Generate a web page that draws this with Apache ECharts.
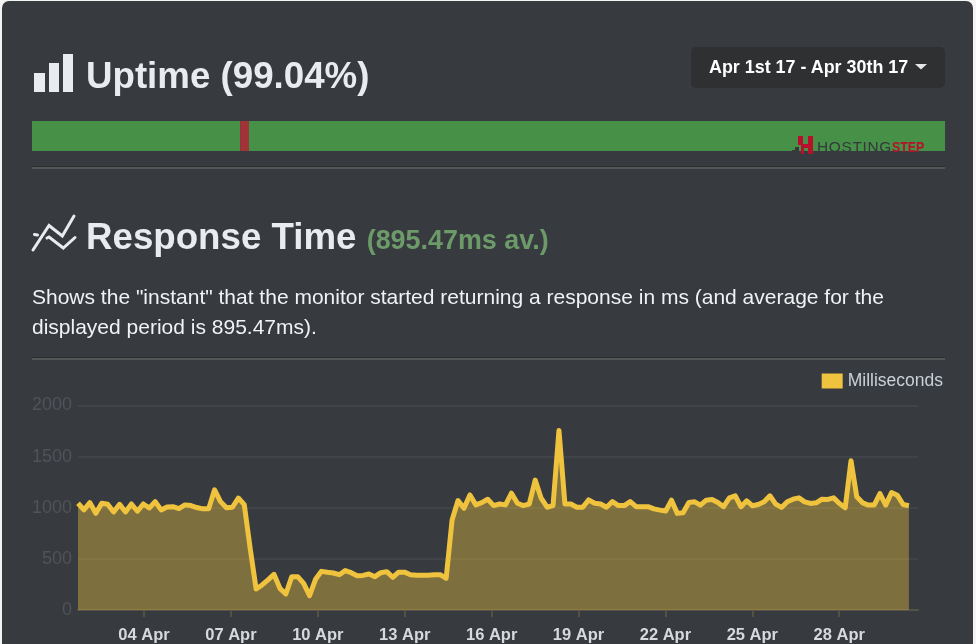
<!DOCTYPE html>
<html>
<head>
<meta charset="utf-8">
<script src="https://cdn.jsdelivr.net/npm/echarts@6/dist/echarts.min.js"></script>
<style>
html,body{margin:0;padding:0;width:976px;height:644px;overflow:hidden;background:#f4f4f4;font-family:"Liberation Sans",Arial,sans-serif;}
#card{position:absolute;left:2px;top:1px;width:971px;height:660px;background:#373a3f;border-radius:7px;}
#chart{position:absolute;left:0;top:0;width:976px;height:644px;}
.t{position:absolute;white-space:nowrap;}
.h{font-weight:700;font-size:36.7px;line-height:40px;color:#e9ecef;}
.p{font-size:21px;line-height:33px;color:#f0f2f4;left:32px;}
.hr{position:absolute;left:32px;width:913px;height:1px;background:#2c2e31;border-bottom:2px solid #555657;}
#btn{position:absolute;left:691px;top:47px;width:254px;height:41px;background:#2f3032;border-radius:5px;}
</style>
</head>
<body>
<div id="card"></div>
<div id="chart"></div>
<svg style="position:absolute;left:0;top:0" width="976" height="300">
  <g fill="#e9ecef"><rect x="34" y="73" width="11" height="19"/><rect x="49" y="63" width="10" height="29"/><rect x="63" y="54" width="10" height="38"/></g>
  <g fill="none" stroke="#e9ecef" stroke-width="3" stroke-linecap="round" stroke-linejoin="miter">
    <polyline points="33,250 49,225.5 62.3,236 74,216"/>
    <polyline points="47,238 49,237 63.3,248 75,237.5"/>
    <polyline points="34.5,234.5 37.5,235"/>
  </g>
  <g fill="#35383c"><rect x="792" y="150" width="4" height="3"/><rect x="795" y="147" width="4" height="4"/></g>
  <path d="M798 136h5v8h5v-8h5v18h-5v-6h-4v6h-3v-9h-3z" fill="#b8102a"/>
</svg>
<div class="t h" style="left:86px;top:56px">Uptime (99.04%)</div>
<div id="btn"></div>
<div class="t" style="left:709px;top:57px;font-weight:700;font-size:17.9px;line-height:20px;color:#fff">Apr 1st 17 - Apr 30th 17</div>
<svg style="position:absolute;left:915px;top:64px" width="14" height="8"><polygon points="0,0 12,0 6,5.5" fill="#e6e6e6"/></svg>
<div class="hr" style="top:166px"></div>
<div class="t" style="left:817px;top:139px;font-size:15.4px;line-height:15px;letter-spacing:.7px;color:#35383c">HOSTING</div>
<div class="t" style="left:892px;top:139px;font-size:15.4px;line-height:15px;font-weight:700;color:#b8102a;transform:scaleX(.8);transform-origin:left">STEP</div>
<div class="t h" style="left:86px;top:217px">Response Time <span style="font-size:26.9px;color:#6c9b69">(895.47ms av.)</span></div>
<div class="t p" style="top:280px">Shows the "instant" that the monitor started returning a response in ms (and average for the</div>
<div class="t p" style="top:310px">displayed period is 895.47ms).</div>
<div class="hr" style="top:357px"></div>
<script>
const seriesName = 'Milliseconds';
const tickLabels = ['04 Apr','07 Apr','10 Apr','13 Apr','16 Apr','19 Apr','22 Apr','25 Apr','28 Apr'];
const uptimeUp = 22.8, uptimeDown = 0.96, uptimeRest = 76.24;
const responseEarly = [
1044,979,1050,946,1044,1034,959,1034,959,1037,966,1037,998,1060,979,1008,1010,992,1028,1021,
1002,989,989,1175,1060,1000,1005,1095,1030,600,205,245,294,349,212,157,326,326,261,140,
300,378,369,362,345,385,365,336,338,352,326,365,375,320,370,370,345,340,340,340,
345,345,310,880,1070,995,1125,1028,1050,1083,1021,1037,1028,1142,1044,1021,1037,1270,1093,1005,
1021,1755,1037,1037,1005,1005,1077,1044,1037,1005,1060,1021,1021,1060,1011,1011,1011,989,977
];
const responseLate = [
968,1074,945,951,1052,1058,1026,1074,1081,1052,1010,1097,1117,1010,1068,1019,1032,1058,1117,1036,
1003,1058,1084,1097,1058,1042,1048,1084,1081,1097,1042,1000,1460,1107,1048,1026,1026,1139,1026,1149,
1123,1032,1019
];
// x axis counts days of April 2017; samples arrive a little faster in the later stretch
const axisMin = 1.72, axisMax = 30.72;
const stepEarly = 0.2050, stepLate = 0.1999;
const pointsEarly = responseEarly.map((v,i)=>[axisMin + stepEarly*i, v]);
const lateStart = axisMin + stepEarly*(responseEarly.length-1);
const pointsLate = responseLate.map((v,i)=>[lateStart + stepLate*(i+1), v]);
const points = pointsEarly.concat(pointsLate);
const tickDays = tickLabels.map(s=>parseInt(s));

const chart = echarts.init(document.getElementById('chart'), null, {width:976,height:644});
chart.setOption({
  backgroundColor:'transparent',
  animation:false,
  textStyle:{fontFamily:'"Liberation Sans", Arial, sans-serif'},
  legend:{
    data:[{name:seriesName,icon:'rect',itemStyle:{color:'#efc33e'}}],
    right:28, top:367, itemWidth:21, itemHeight:15, itemGap:4,
    textStyle:{color:'#c9d1d9',fontSize:17.5,padding:[0,0,0,0]}
  },
  grid:[
    {left:78,right:58,top:405.5,height:204.5},
    {left:32,right:31,top:121,height:30}
  ],
  xAxis:[
    {type:'value',gridIndex:0,min:axisMin,max:axisMax,
     splitLine:{show:false},
     axisLine:{show:true,lineStyle:{color:'#54534a',width:2}},
     axisTick:{show:true,length:7,customValues:tickDays,lineStyle:{color:'#55533f',width:2}},
     axisLabel:{show:true,customValues:tickDays,margin:17,color:'#d6d9dd',fontSize:16.5,fontWeight:'bold',
       hideOverlap:false,showMinLabel:true,showMaxLabel:true,
       formatter:(v)=>tickLabels[tickDays.indexOf(v)]}},
    {type:'value',gridIndex:1,min:0,max:100,show:false}
  ],
  yAxis:[
    {type:'value',gridIndex:0,min:0,max:2000,interval:500,
     axisLine:{show:false},axisTick:{show:false},
     axisLabel:{color:'#505358',fontSize:18,margin:6,padding:[2,0,0,0],formatter:(v)=>String(v)},
     splitLine:{show:true,lineStyle:{color:'#404347',width:2}}},
    {type:'category',gridIndex:1,data:['uptime'],show:false}
  ],
  series:[
    {name:seriesName,type:'line',xAxisIndex:0,yAxisIndex:0,data:points,showSymbol:false,smooth:false,
     lineStyle:{color:'#efc33e',width:5,join:'round'},
     itemStyle:{color:'#efc33e'},
     areaStyle:{color:'rgba(239,195,62,0.39)',opacity:1}},
    {name:'up1',type:'bar',stack:'u',xAxisIndex:1,yAxisIndex:1,barWidth:'100%',data:[uptimeUp],itemStyle:{color:'#469048'}},
    {name:'down',type:'bar',stack:'u',xAxisIndex:1,yAxisIndex:1,barWidth:'100%',data:[uptimeDown],itemStyle:{color:'#a33338'}},
    {name:'up2',type:'bar',stack:'u',xAxisIndex:1,yAxisIndex:1,barWidth:'100%',data:[uptimeRest],itemStyle:{color:'#469048'}}
  ]
});
</script>
</body>
</html>
